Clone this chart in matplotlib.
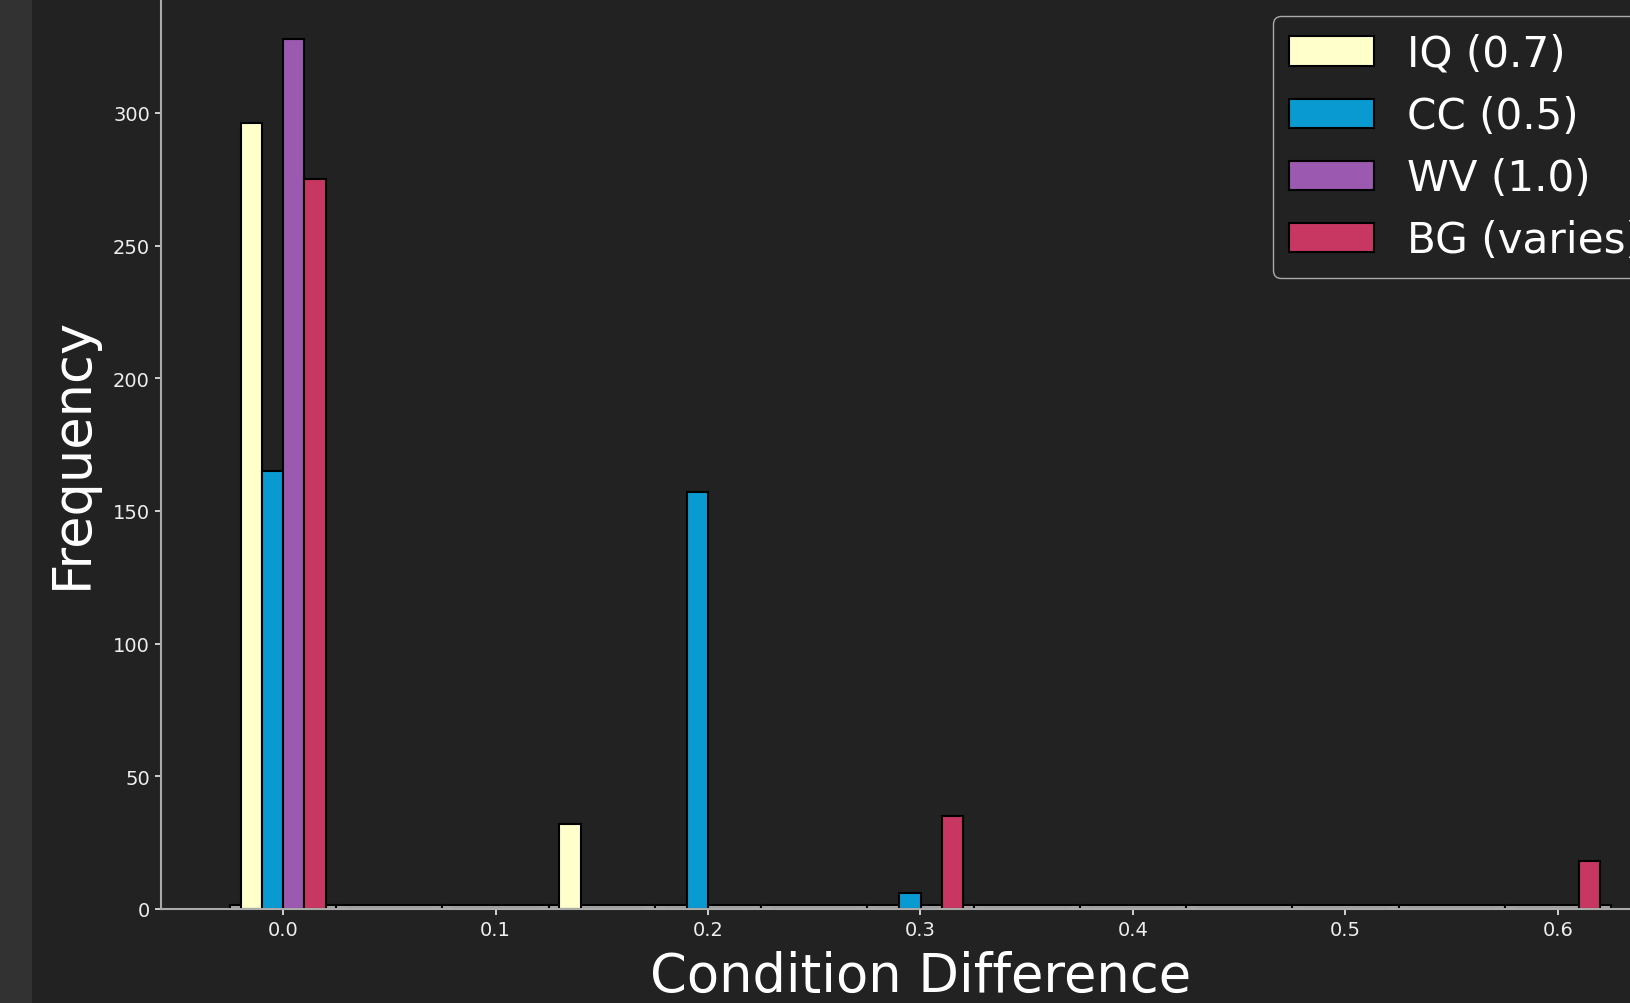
import numpy as np
import matplotlib.pyplot as plt
from matplotlib.patches import Rectangle

# bin edges of the histogram (width 0.05, centred on multiples of 0.05)
edges = np.round(np.arange(-0.025, 0.626, 0.05), 3)
centers = (edges[:-1] + edges[1:]) / 2

labels = ["IQ (0.7)", "CC (0.5)", "WV (1.0)", "BG (varies)"]
colors = ["#ffffcc", "#0a9ad2", "#9b59b0", "#c83762"]
#           0.0  .05  0.1  .15  0.2  .25  0.3  .35  0.4  .45  0.5  .55  0.6
iq_counts = [296, 0,   0,   32,  0,   0,   0,   0,   0,   0,   0,   0,   0]
cc_counts = [165, 0,   0,   0,   157, 0,   6,   0,   0,   0,   0,   0,   0]
wv_counts = [328, 0,   0,   0,   0,   0,   0,   0,   0,   0,   0,   0,   0]
bg_counts = [275, 0,   0,   0,   0,   0,   35,  0,   0,   0,   0,   0,   18]
# thin grey base bars along the axis
base_counts = [1.6] * 13

bgc = "#222222"
fig = plt.figure(figsize=(16.31, 10.04), dpi=100, facecolor=bgc)
fig.patches.append(Rectangle((0, 0), 32 / 1631, 1, transform=fig.transFigure,
                             facecolor="#323232", edgecolor="none", zorder=-10))
ax = fig.add_axes([161 / 1631, 94 / 1004, (1680 - 161) / 1631, 914 / 1004])
ax.set_facecolor(bgc)

ax.bar(centers, base_counts, width=0.05, color="#aaaaaa", edgecolor="black",
       linewidth=1.5, zorder=1)
ax.hist([centers] * 4, bins=edges,
        weights=[iq_counts, cc_counts, wv_counts, bg_counts],
        color=colors, edgecolor="black", linewidth=1.5, label=labels, zorder=2)

ax.set_xticks([0.0, 0.1, 0.2, 0.3, 0.4, 0.5, 0.6])
ax.set_yticks([0, 50, 100, 150, 200, 250, 300])
ax.tick_params(colors="#eeeeee", labelsize=14, length=4.5, width=1.2)
for s in ["top", "right"]:
    ax.spines[s].set_visible(False)
for s in ["left", "bottom"]:
    ax.spines[s].set_color("#aaaaaa")
    ax.spines[s].set_linewidth(1.5)

ax.set_xlabel("Condition Difference", fontsize=38, color="white", labelpad=8)
ax.set_ylabel("Frequency", fontsize=38, color="white", labelpad=11)

leg = ax.legend(loc="upper right", fontsize=30.3, facecolor=bgc,
                edgecolor="#aaaaaa", framealpha=1, labelspacing=0.48)
for t in leg.get_texts():
    t.set_color("white")

fig.savefig("out.png", dpi=100, facecolor=bgc)
